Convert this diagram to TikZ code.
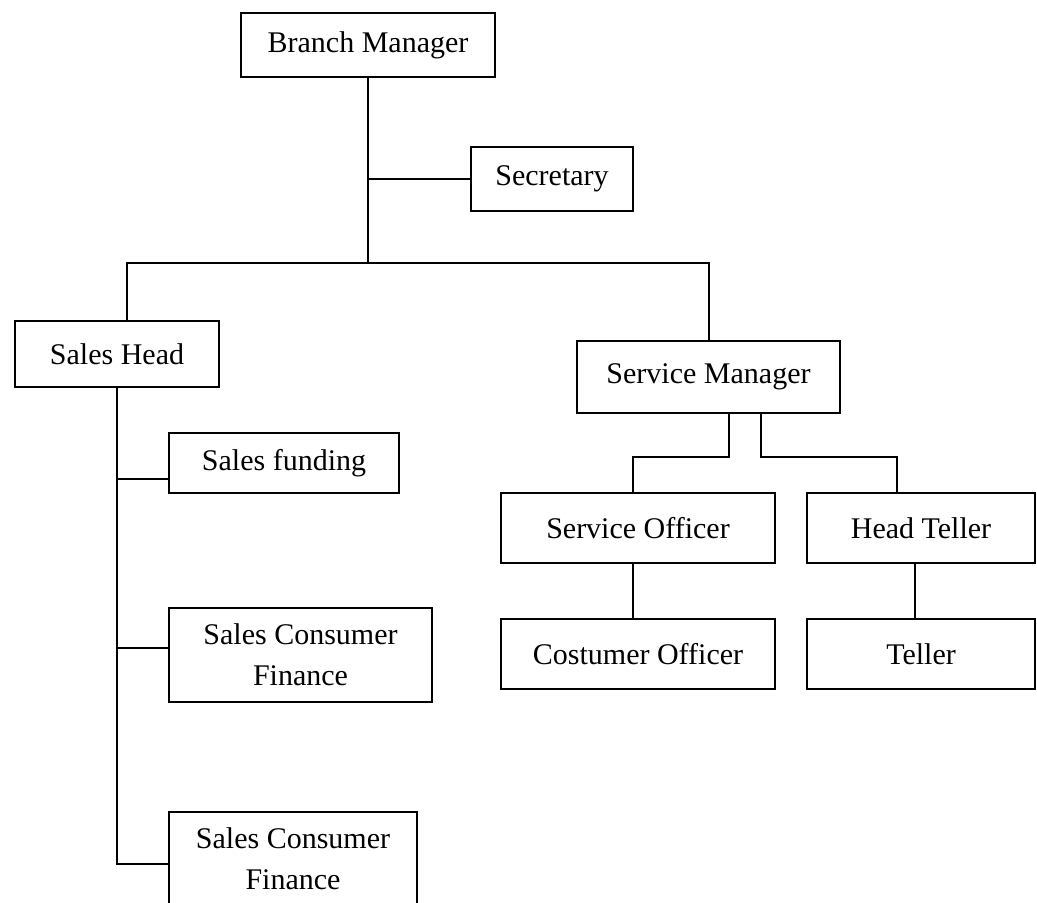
\documentclass[tikz,border=0pt]{standalone}
\usepackage{fontspec}
\setmainfont{Liberation Serif}
\tikzset{
  post/.style={draw, line width=1pt, inner sep=0pt, align=center,
    font=\fontsize{15pt}{20.5pt}\selectfont},
  link/.style={line width=1pt}
}
\begin{document}
\begin{tikzpicture}[x=0.5pt, y=-0.5pt]
  \fill[white] (0,0) rectangle (1037,902);
  \useasboundingbox (0,0) rectangle (1037,902);
  \clip (0,0) rectangle (1037,902);

  % Top of the branch
  \node[post, minimum width=127pt, minimum height=32pt] (bm) at (368,45) {Branch Manager};
  \node[post, minimum width=81pt, minimum height=32pt] (sec) at (552,179) {Secretary};
  \coordinate (bus) at (368,263);

  % Sales side
  \node[post, minimum width=102pt, minimum height=33pt] (sh) at (117,354) {Sales Head};
  \node[post, minimum width=115pt, minimum height=30pt] (sf) at (284,463) {Sales funding};
  \node[post, minimum width=131.5pt, minimum height=47pt] (scfa) at (300.5,655) {Sales Consumer\\Finance};
  \node[post, minimum width=124pt, minimum height=47pt] (scfb) at (293,859) {Sales Consumer\\Finance};

  % Service side
  \node[post, minimum width=131.5pt, minimum height=36pt] (sm) at (708.5,377) {Service Manager};
  \node[post, minimum width=137pt, minimum height=35pt] (so) at (638,528) {Service Officer};
  \node[post, minimum width=114pt, minimum height=35pt] (ht) at (921,528) {Head Teller};
  \node[post, minimum width=137pt, minimum height=35pt] (co) at (638,654) {Costumer Officer};
  \node[post, minimum width=114pt, minimum height=35pt] (tel) at (921,654) {Teller};
  \coordinate (svbus) at (0,457);

  % Connectors
  \draw[link] (bm.south) -- (bus);
  \draw[link] (bm.south |- sec.west) -- (sec.west);
  \draw[link] ([xshift=5pt]sh.north) |- (bus) -| (sm.north);
  \draw[link] (sh.south) |- ([yshift=-2.5pt]scfb.west);
  \draw[link] (sh.south |- sf.west) ++(0,16) -- ([yshift=-8pt]sf.west);
  \draw[link] (sh.south |- scfa.west) ++(0,-7) -- ([yshift=3.5pt]scfa.west);
  \draw[link] ([xshift=10pt]sm.south) -- ([xshift=10pt]sm.south |- svbus) -| ([xshift=-2.5pt]so.north);
  \draw[link] ([xshift=26pt]sm.south) -- ([xshift=26pt]sm.south |- svbus) -| ([xshift=-12pt]ht.north);
  \draw[link] ([xshift=-2.5pt]so.south) -- ([xshift=-2.5pt]co.north);
  \draw[link] ([xshift=-3pt]ht.south) -- ([xshift=-3pt]tel.north);
\end{tikzpicture}
\end{document}
